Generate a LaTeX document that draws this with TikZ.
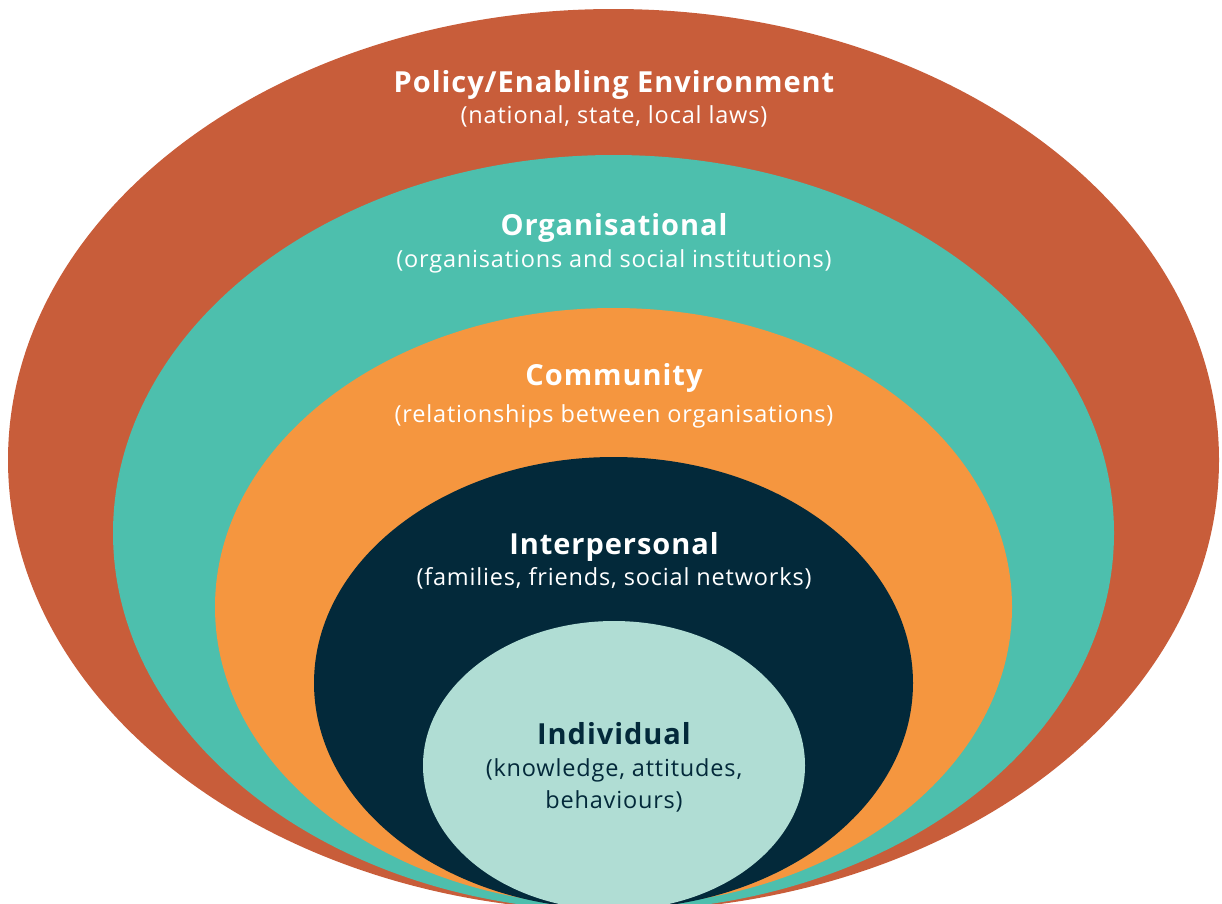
\documentclass[tikz,border=0pt]{standalone}
\usepackage{fontspec}
\setmainfont{Open Sans}
\newfontfamily\ttlfont[LetterSpace=3.3]{Open Sans}
\newfontfamily\subfont[LetterSpace=3.5]{Open Sans}
\definecolor{cred}{HTML}{C85D3A}
\definecolor{cteal}{HTML}{4DBFAD}
\definecolor{corange}{HTML}{F5963F}
\definecolor{cnavy}{HTML}{03293A}
\definecolor{clight}{HTML}{B0DDD4}
\tikzset{
  ttl/.style={anchor=base, inner sep=0pt, font=\ttlfont\fontsize{29}{31}\selectfont\bfseries},
  sub/.style={anchor=base, inner sep=0pt, font=\subfont\fontsize{23.5}{27}\selectfont},
  lw/.style={text=white},
  ln/.style={text=cnavy},
}
\begin{document}
\begin{tikzpicture}[x=1pt,y=-1pt]
\useasboundingbox (0,0) rectangle (1222,903);
\clip (0,0) rectangle (1222,903);
\fill[cred] (613.5,460) ellipse [x radius=605.5, y radius=451];
\fill[cteal] (613.5,533) ellipse [x radius=500.5, y radius=378];
\fill[corange] (613.5,607) ellipse [x radius=398.5, y radius=299];
\fill[cnavy] (613.5,683) ellipse [x radius=299.5, y radius=226];
\fill[clight] (614,765.5) ellipse [x radius=191, y radius=144.5];
\node[ttl,lw] (t1) at (614,92) {Policy/Enabling Environment};
\node[sub,lw] (s1) at (614,123) {(national, state, local laws)};
\node[ttl,lw] (t2) at (614,235) {Organisational};
\node[sub,lw] (s2) at (614,267) {(organisations and social institutions)};
\node[ttl,lw] (t3) at (614,385) {Community};
\node[sub,lw] (s3) at (614,422) {(relationships between organisations)};
\node[ttl,lw] (t4) at (614,554) {Interpersonal};
\node[sub,lw] (s4) at (614,585) {(families, friends, social networks)};
\node[ttl,ln] (t5) at (614,744) {Individual};
\node[sub,ln] (s5) at (614,776) {(knowledge, attitudes,};
\node[sub,ln] (s6) at (614,808) {behaviours)};
\end{tikzpicture}
\end{document}
